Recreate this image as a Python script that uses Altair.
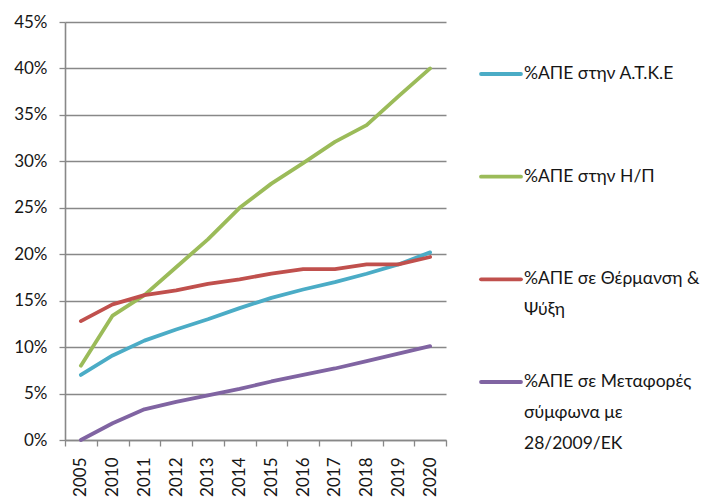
import altair as alt
import pandas as pd

# Share of renewable energy sources (%), by sector, 2005 and 2010-2020
years = ["2005", "2010", "2011", "2012", "2013", "2014",
         "2015", "2016", "2017", "2018", "2019", "2020"]

series_names = [
    "%ΑΠΕ στην Α.Τ.Κ.Ε",
    "%ΑΠΕ στην Η/Π",
    "%ΑΠΕ σε Θέρμανση & Ψύξη",
    "%ΑΠΕ σε Μεταφορές σύμφωνα με 28/2009/ΕΚ",
]
legend_labels = [
    "%ΑΠΕ στην Α.Τ.Κ.Ε",
    "%ΑΠΕ στην Η/Π",
    "%ΑΠΕ σε Θέρμανση &\nΨύξη",
    "%ΑΠΕ σε Μεταφορές\nσύμφωνα με\n28/2009/ΕΚ",
]
colors = ["#4BACC6", "#9BBB59", "#C0504D", "#8064A2"]

atke = [7.0, 9.1, 10.7, 11.9, 13.0, 14.2, 15.3, 16.2, 17.0, 17.9, 18.9, 20.2]
electricity = [8.0, 13.4, 15.6, 18.6, 21.6, 25.0, 27.6, 29.8, 32.1, 33.9, 37.0, 40.0]
heating_cooling = [12.8, 14.6, 15.6, 16.1, 16.8, 17.3, 17.9, 18.4, 18.4, 18.9, 18.9, 19.7]
transport = [0.0, 1.8, 3.3, 4.1, 4.8, 5.5, 6.3, 7.0, 7.7, 8.5, 9.3, 10.1]

y_ticks = [0, 5, 10, 15, 20, 25, 30, 35, 40, 45]

rows = []
for name, vals in zip(series_names, [atke, electricity, heating_cooling, transport]):
    for yr, v in zip(years, vals):
        rows.append({"year": yr, "series": name, "value": v})
df = pd.DataFrame(rows)
legend_df = pd.DataFrame({"series": series_names, "label": legend_labels})

color_scale = alt.Scale(domain=series_names, range=colors)
axis_gray = "#888888"
text_dark = "#161616"

lines = alt.Chart(df).mark_line(strokeWidth=3.8, strokeCap="round", strokeJoin="round").encode(
    x=alt.X(
        "year:O", sort=years, bandPosition=0.5,
        scale=alt.Scale(type="band", paddingInner=0, paddingOuter=0),
        axis=alt.Axis(title=None, labelAngle=270, tickBand="extent", tickSize=6,
                      labelPadding=11, labelFontSize=17, labelFont="Lato",
                      labelColor=text_dark, grid=False),
    ),
    y=alt.Y(
        "value:Q", scale=alt.Scale(domain=[0, 45], nice=False),
        axis=alt.Axis(title=None, values=y_ticks, labelExpr="datum.value + '%'",
                      tickSize=6, labelPadding=12, labelFontSize=17, labelFont="Lato",
                      labelColor=text_dark, grid=True),
    ),
    color=alt.Color("series:N", scale=color_scale, legend=None),
)

# Legend drawn as its own layer: one row per series, evenly spaced
legend_y = alt.Y(
    "series:N", sort=series_names, axis=None,
    scale=alt.Scale(type="point", domain=series_names, range=[52, 360], padding=0),
)
legend_rule = alt.Chart(legend_df).mark_rule(strokeWidth=3.8, strokeCap="round").encode(
    x=alt.value(416), x2=alt.value(456), y=legend_y,
    color=alt.Color("series:N", scale=color_scale, legend=None),
)
legend_text = alt.Chart(legend_df).mark_text(
    align="left", baseline="top", dy=-9, lineBreak="\n", lineHeight=31,
    fontSize=17.5, font="Lato", color=text_dark,
).encode(x=alt.value(459), y=legend_y, text="label:N")

chart = (
    alt.layer(lines, legend_rule, legend_text)
    .resolve_scale(y="independent")
    .properties(
        width=381, height=418,
        autosize=alt.AutoSizeParams(type="none"),
        padding={"left": 65, "top": 22, "right": 258, "bottom": 60},
        background="white",
    )
    .configure_view(stroke=None)
    .configure_axis(
        domainColor=axis_gray, domainWidth=1.6,
        gridColor=axis_gray, gridWidth=1.3, gridOpacity=1,
        tickColor=axis_gray, tickWidth=1.3,
    )
)

chart.save("out.html", embed_options={"renderer": "svg", "actions": False})
